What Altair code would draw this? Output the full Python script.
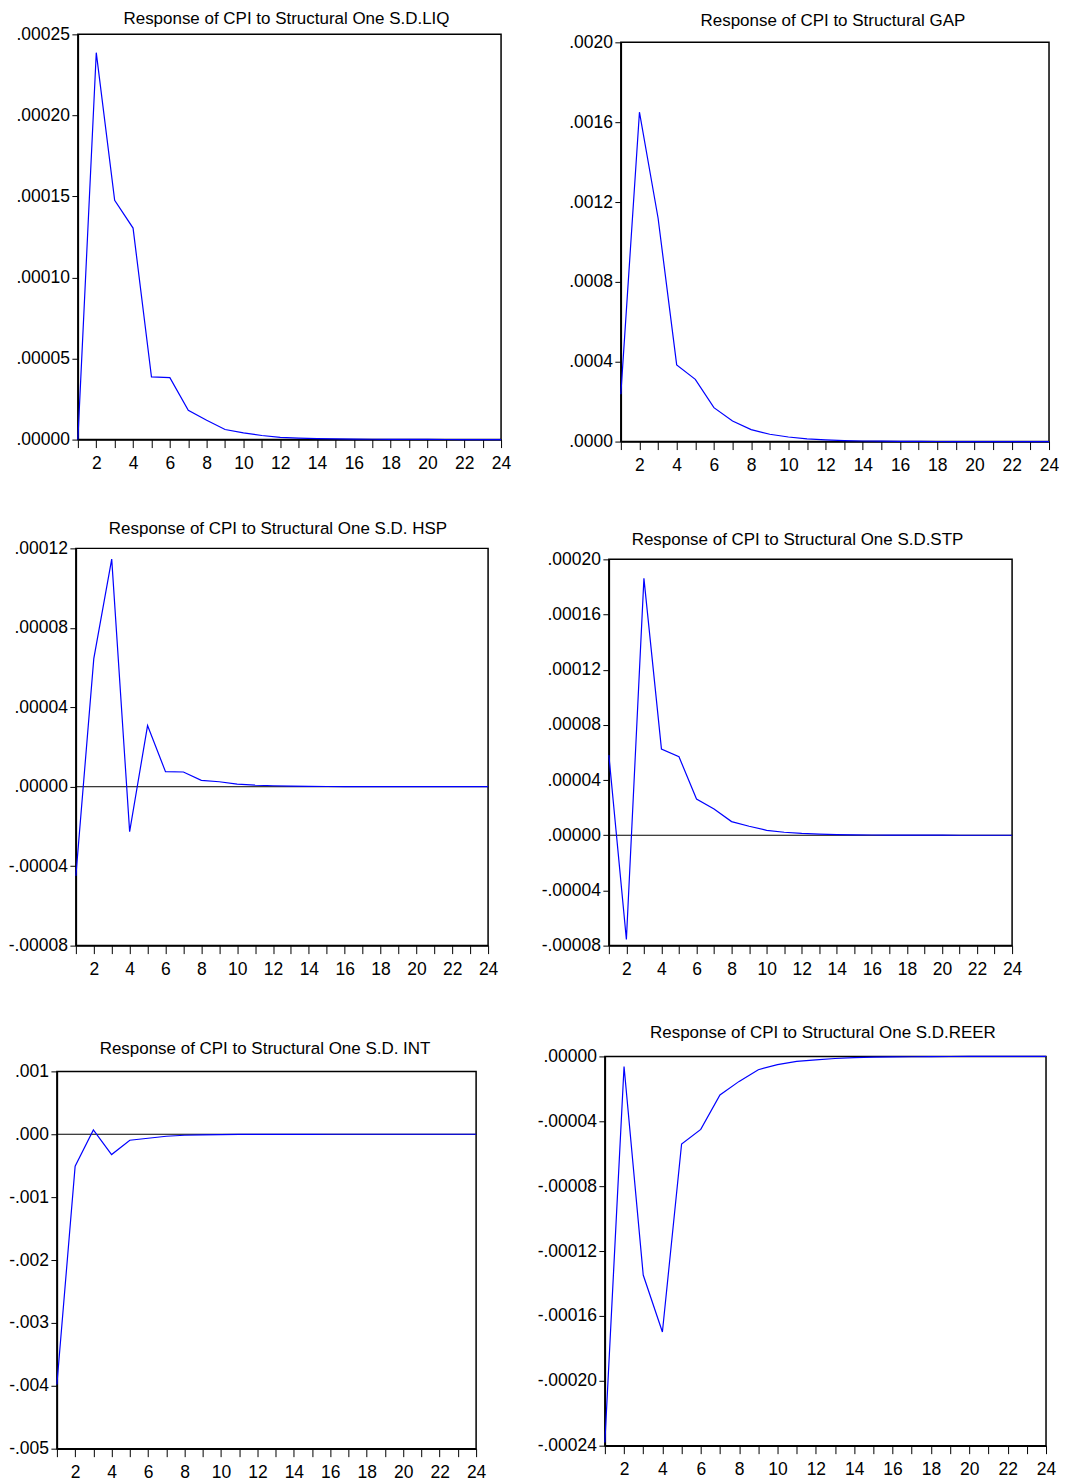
import altair as alt
import pandas as pd

periods = list(range(1, 25))

liq = [0.0, 0.0002387, 0.0001476, 0.0001305, 0.0000387, 0.0000382, 0.0000181, 0.0000119,
       0.0000062, 0.0000041, 0.0000025, 0.0000014, 0.0000009, 0.0000006, 0.0000004, 0.0000003,
       0.0000002, 0.00000015, 0.0000001, 0.00000007, 0.00000005, 0.00000003, 0.00000002, 0.00000001]
gap = [0.000237, 0.00165, 0.00112, 0.000384, 0.000312, 0.00017, 0.000103, 0.00006,
       0.0000367, 0.000023, 0.000014, 0.0000085, 0.000005, 0.000003, 0.0000018, 0.0000011,
       0.0000007, 0.0000004, 0.00000025, 0.00000015, 0.0000001, 0.00000006, 0.00000004, 0.00000002]
hsp = [-0.0000449, 0.0000645, 0.0001146, -0.0000226, 0.0000308, 0.0000076, 0.0000074, 0.0000032,
       0.0000025, 0.0000013, 0.0000008, 0.0000005, 0.0000003, 0.0000002, 0.0000001, 0.00000007,
       0.00000005, 0.00000003, 0.00000002, 0.00000001, 0.00000001, 0.0, 0.0, 0.0]
stp = [0.0000581, -0.0000755, 0.0001862, 0.0000625, 0.0000569, 0.0000263, 0.0000191, 0.0000099,
       0.0000065, 0.0000036, 0.0000022, 0.0000013, 0.0000008, 0.0000005, 0.0000003, 0.0000002,
       0.0000001, 0.00000007, 0.00000005, 0.00000003, 0.00000002, 0.00000001, 0.00000001, 0.0]
intr = [-0.00398, -0.000508, 0.0000688, -0.000323, -0.000095, -0.0000635, -0.000032, -0.000016,
        -0.000009, -0.000005, -0.000003, -0.000002, -0.0000012, -0.0000007, -0.0000004, -0.0000002,
        -0.0000001, -0.00000007, -0.00000004, -0.00000002, -0.00000001, 0.0, 0.0, 0.0]
reer = [-0.000238, -0.0000062, -0.0001348, -0.0001699, -0.000054, -0.000045, -0.0000238, -0.0000154,
        -0.0000082, -0.0000051, -0.0000031, -0.0000021, -0.0000013, -0.0000008, -0.0000005, -0.0000003,
        -0.0000002, -0.00000012, -0.00000007, -0.00000004, -0.00000002, -0.00000001, 0.0, 0.0]

titles = [
    "Response of CPI to Structural One S.D.LIQ",
    "Response of CPI to Structural GAP",
    "Response of CPI to Structural One S.D. HSP",
    "Response of CPI to Structural One S.D.STP",
    "Response of CPI to Structural One S.D. INT",
    "Response of CPI to Structural One S.D.REER",
]

ticks_liq = [0.0, 0.00005, 0.0001, 0.00015, 0.0002, 0.00025]
ticks_gap = [0.0, 0.0004, 0.0008, 0.0012, 0.0016, 0.002]
ticks_hsp = [-0.00008, -0.00004, 0.0, 0.00004, 0.00008, 0.00012]
ticks_stp = [-0.00008, -0.00004, 0.0, 0.00004, 0.00008, 0.00012, 0.00016, 0.0002]
ticks_int = [-0.005, -0.004, -0.003, -0.002, -0.001, 0.0, 0.001]
ticks_reer = [-0.00024, -0.0002, -0.00016, -0.00012, -0.00008, -0.00004, 0.0]

FONT = "Liberation Sans, Arial, sans-serif"
LFS = 17.5
TFS = 17


def panel(title, values, ticks, fmt, w, h, top, extent, offset, dx, zero=True, left=0):
    # left > 0: the box starts `left` px to the left of the panel origin
    lo, hi = ticks[0], ticks[-1]
    df = pd.DataFrame({"period": periods, "value": values})
    x = alt.X("period:Q",
              scale=alt.Scale(domain=[1, 24], nice=False, zero=False, range=[-left, w - left]),
              axis=alt.Axis(values=periods, title=None, grid=False,
                            labelExpr="datum.value % 2 == 0 ? datum.label : ''",
                            tickSize=8, labelPadding=7, labelFlush=False, labelOverlap=False))
    yaxis = dict(values=ticks, format=fmt, title=None, grid=False,
                 labelExpr="replace(replace(datum.label, '\u2212', '-'), '0.', '.')",
                 tickSize=6, labelPadding=2.5, labelOverlap=False, minExtent=extent)
    if left:
        yaxis["offset"] = left
    y = alt.Y("value:Q",
              scale=alt.Scale(domain=[lo, hi], nice=False, zero=False, range=[h, top]),
              axis=alt.Axis(**yaxis))
    fdf = pd.DataFrame({"period": [1], "period_end": [24], "value": [lo], "value_end": [hi]})
    layers = [alt.Chart(fdf).mark_rect(filled=False, color="black", strokeWidth=1.5).encode(
        x=x, x2="period_end", y=y, y2="value_end")]
    if zero:
        zdf = pd.DataFrame({"period": [1, 24], "value": [0.0, 0.0]})
        layers.append(alt.Chart(zdf).mark_line(color="black", strokeWidth=1).encode(x=x, y=y))
    layers.append(alt.Chart(df).mark_line(color="#0000ff", strokeWidth=1.2).encode(x=x, y=y))
    tp = alt.TitleParams(text=title, font=FONT, fontSize=TFS, fontWeight="normal",
                         color="black", anchor="middle", frame="group", offset=offset,
                         dx=dx - left / 2)
    return alt.layer(*layers).properties(width=w - left, height=h, title=tp)


p1 = panel(titles[0], liq, ticks_liq, ".5f", 424, 406, 0, 69, -2.4, -3, zero=False)
p2 = panel(titles[1], gap, ticks_gap, ".4f", 429, 408, 8, 53, 3.6, -2, zero=False)
p3 = panel(titles[2], hsp, ticks_hsp, ".5f", 413, 398, 0, 67, 1.6, -4, left=2)
p4 = panel(titles[3], stp, ticks_stp, ".5f", 404, 398, 11, 69, -0.4, -13)
p5 = panel(titles[4], intr, ticks_int, ".3f", 420, 393, 15, 48, -1.4, -1.5, left=21)
p6 = panel(titles[5], reer, ticks_reer, ".5f", 442, 390, 0, 70, 5.6, -2.5, zero=False)

row1 = alt.hconcat(p1, p2, spacing=57)
row2 = alt.hconcat(p3, p4, spacing=42)
row3 = alt.hconcat(p5, p6, spacing=38)

chart = alt.vconcat(row1, row2, row3, spacing=45).properties(
    padding={"left": 0, "top": 0, "right": 0, "bottom": 0}, background="white"
).configure_view(
    strokeWidth=0
).configure_axis(
    domainColor="black", domainWidth=1.5, tickColor="black", tickWidth=1,
    labelColor="black", labelFont=FONT, labelFontSize=LFS
)

chart.save("out.html", embed_options={"renderer": "svg", "actions": False})
